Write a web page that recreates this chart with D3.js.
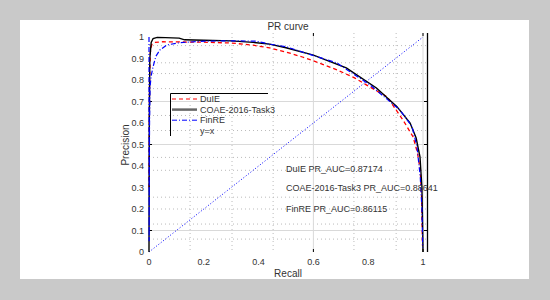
<!DOCTYPE html>
<html>
<head>
<meta charset="utf-8">
<script src="https://cdn.jsdelivr.net/npm/d3@7"></script>
<style>
  body { margin: 0; background: #c9c9c9; }
  svg text { font-family: "Liberation Sans", Arial, sans-serif; fill: #333; }
</style>
</head>
<body>
<div id="chart"></div>
<script>
// PR curve data
const duieRecall = [0, 0.002, 0.005, 0.01, 0.02, 0.05, 0.1, 0.2, 0.3, 0.38, 0.44, 0.5, 0.56, 0.62, 0.686, 0.75, 0.807, 0.869, 0.927, 0.964, 0.98, 0.99, 0.995, 0.998];
const duiePrecision = [0.3, 0.8, 0.93, 0.965, 0.975, 0.978, 0.977, 0.976, 0.972, 0.962, 0.949, 0.93, 0.907, 0.88, 0.847, 0.81, 0.767, 0.722, 0.614, 0.535, 0.46, 0.38, 0.25, 0.03];

const coaeRecall = [0, 0.001, 0.003, 0.008, 0.015, 0.03, 0.06, 0.11, 0.13, 0.2, 0.3, 0.38, 0.44, 0.5, 0.6, 0.72, 0.83, 0.905, 0.953, 0.975, 0.989, 0.996, 0.999, 1.0];
const coaePrecision = [0.0, 0.6, 0.9, 0.975, 0.993, 0.998, 0.997, 0.995, 0.987, 0.985, 0.982, 0.975, 0.967, 0.95, 0.916, 0.856, 0.763, 0.676, 0.6, 0.53, 0.443, 0.3, 0.1, 0.0];

const finreRecall = [0, 0.0005, 0.001, 0.002, 0.004, 0.008, 0.015, 0.025, 0.04, 0.065, 0.113, 0.21, 0.3, 0.39, 0.44, 0.5, 0.56, 0.686, 0.807, 0.916, 0.96, 0.978, 0.99, 0.996, 0.999];
const finrePrecision = [1.0, 0.05, 0.3, 0.6, 0.77, 0.82, 0.862, 0.91, 0.94, 0.963, 0.974, 0.981, 0.982, 0.981, 0.967, 0.955, 0.93, 0.879, 0.777, 0.66, 0.583, 0.49, 0.35, 0.2, 0.02];

const diagonal = [0, 1];

const xTicks = [0, 0.2, 0.4, 0.6, 0.8, 1];
const yTicks = [0, 0.1, 0.2, 0.3, 0.4, 0.5, 0.6, 0.7, 0.8, 0.9, 1];
const xSolidGrid = [0.6, 1];
const ySolidGrid = [0.1, 0.5, 0.7];
const xDotGrid = [0.15, 0.303, 0.453, 0.748, 0.902];
const yDotGrid = [0.96, 0.88, 0.83, 0.76, 0.635, 0.565, 0.44, 0.38, 0.255, 0.2, 0.13, 0.06];

const legendNames = ["DuIE", "COAE-2016-Task3", "FinRE", "y=x"];
const aucLabels = ["DuIE PR_AUC=0.87174", "COAE-2016-Task3 PR_AUC=0.88641", "FinRE PR_AUC=0.86115"];

const width = 550, height = 300;
const svg = d3.select('#chart').append('svg')
  .attr('width', width)
  .attr('height', height);

// white figure panel
svg.append('rect')
  .attr('x', 20).attr('y', 20)
  .attr('width', 509).attr('height', 259)
  .attr('fill', '#fff');

const x = d3.scaleLinear().domain([0, 1]).range([149, 423]);
const y = d3.scaleLinear().domain([0, 1]).range([252, 37]);

// grid
svg.selectAll('.gx-dot').data(xDotGrid).join('line')
  .attr('x1', d => x(d)).attr('x2', d => x(d))
  .attr('y1', 33).attr('y2', 252)
  .attr('stroke', '#bbb').attr('stroke-width', 1)
  .attr('stroke-dasharray', '1,3');
svg.selectAll('.gy-dot').data(yDotGrid).join('line')
  .attr('x1', 149).attr('x2', 427)
  .attr('y1', d => y(d)).attr('y2', d => y(d))
  .attr('stroke', '#bbb').attr('stroke-width', 1)
  .attr('stroke-dasharray', '1,3');
svg.selectAll('.gx-solid').data(xSolidGrid).join('line')
  .attr('x1', d => x(d)).attr('x2', d => x(d))
  .attr('y1', 33).attr('y2', 252)
  .attr('stroke', '#d9d9d9').attr('stroke-width', 1);
svg.selectAll('.gy-solid').data(ySolidGrid).join('line')
  .attr('x1', 149).attr('x2', 427)
  .attr('y1', d => y(d)).attr('y2', d => y(d))
  .attr('stroke', '#d9d9d9').attr('stroke-width', 1);

// axis frame: right edge and small inward ticks
svg.append('line')
  .attr('x1', 427.5).attr('x2', 427.5)
  .attr('y1', 33).attr('y2', 252)
  .attr('stroke', '#000').attr('stroke-width', 1.3);
svg.selectAll('.tk-top').data(xSolidGrid).join('line')
  .attr('x1', d => x(d)).attr('x2', d => x(d))
  .attr('y1', 33).attr('y2', 36)
  .attr('stroke', '#000');
svg.selectAll('.tk-bot').data(xSolidGrid).join('line')
  .attr('x1', d => x(d)).attr('x2', d => x(d))
  .attr('y1', 252).attr('y2', 249)
  .attr('stroke', '#000');
svg.selectAll('.tk-right').data(ySolidGrid).join('line')
  .attr('x1', 427).attr('x2', 424)
  .attr('y1', d => y(d)).attr('y2', d => y(d))
  .attr('stroke', '#000');
svg.selectAll('.tk-left').data(ySolidGrid).join('line')
  .attr('x1', 149).attr('x2', 152)
  .attr('y1', d => y(d)).attr('y2', d => y(d))
  .attr('stroke', '#000');

// tick labels
svg.selectAll('.xl').data(xTicks).join('text')
  .attr('x', d => x(d)).attr('y', 265)
  .attr('text-anchor', 'middle')
  .style('font-size', '9px')
  .text(d => d3.format('~g')(d));
svg.selectAll('.yl').data(yTicks).join('text')
  .attr('x', 144).attr('y', d => y(d) + 3)
  .attr('text-anchor', 'end')
  .style('font-size', '9px')
  .text(d => d3.format('~g')(d));

svg.append('text')
  .attr('x', 288).attr('y', 277)
  .attr('text-anchor', 'middle')
  .style('font-size', '10px')
  .text('Recall');
svg.append('text')
  .attr('transform', 'translate(129,145) rotate(-90)')
  .attr('text-anchor', 'middle')
  .style('font-size', '10px')
  .text('Precision');
svg.append('text')
  .attr('x', 288).attr('y', 30)
  .attr('text-anchor', 'middle')
  .style('font-size', '10px')
  .text('PR curve');

// curves
const line = d3.line().x(d => x(d[0])).y(d => y(d[1]));

svg.append('path')
  .datum(diagonal.map(d => [d, d]))
  .attr('d', line)
  .attr('fill', 'none')
  .attr('stroke', '#0000ff').attr('stroke-width', 1)
  .attr('stroke-dasharray', '1,2');

svg.append('path')
  .datum(duieRecall.map((r, i) => [r, duiePrecision[i]]))
  .attr('d', line)
  .attr('fill', 'none')
  .attr('stroke', '#ff0000').attr('stroke-width', 1.3)
  .attr('stroke-dasharray', '4,3');

svg.append('path')
  .datum(coaeRecall.map((r, i) => [r, coaePrecision[i]]))
  .attr('d', line)
  .attr('fill', 'none')
  .attr('stroke', '#000').attr('stroke-width', 1.4);

svg.append('path')
  .datum(finreRecall.map((r, i) => [r, finrePrecision[i]]))
  .attr('d', line)
  .attr('fill', 'none')
  .attr('stroke', '#0000ff').attr('stroke-width', 1.2)
  .attr('stroke-dasharray', '5,2,1,2');

// legend (only top and left edges show in the figure)
const lg = svg.append('g');
lg.append('path')
  .attr('d', 'M170.5,136 V93.5 H268')
  .attr('fill', 'none')
  .attr('stroke', '#000').attr('stroke-width', 1);
const legendStyles = [
  { stroke: '#ff0000', dash: '4,3', w: 1.2 },
  { stroke: '#666', dash: null, w: 2.5 },
  { stroke: '#0000ff', dash: '5,2,1,2', w: 1 },
  { stroke: 'none', dash: null, w: 1 }
];
legendNames.forEach((name, i) => {
  const ly = 99 + i * 10.6;
  lg.append('line')
    .attr('x1', 172).attr('x2', 197)
    .attr('y1', ly).attr('y2', ly)
    .attr('stroke', legendStyles[i].stroke)
    .attr('stroke-width', legendStyles[i].w)
    .attr('stroke-dasharray', legendStyles[i].dash);
  lg.append('text')
    .attr('x', 200).attr('y', ly + 3)
    .style('font-size', '9px')
    .text(name);
});

// AUC annotations
const aucY = [169, 188, 209];
aucLabels.forEach((t, i) => {
  svg.append('text')
    .attr('x', 286).attr('y', aucY[i] + 3)
    .style('font-size', '9px')
    .text(t);
});
</script>
</body>
</html>
